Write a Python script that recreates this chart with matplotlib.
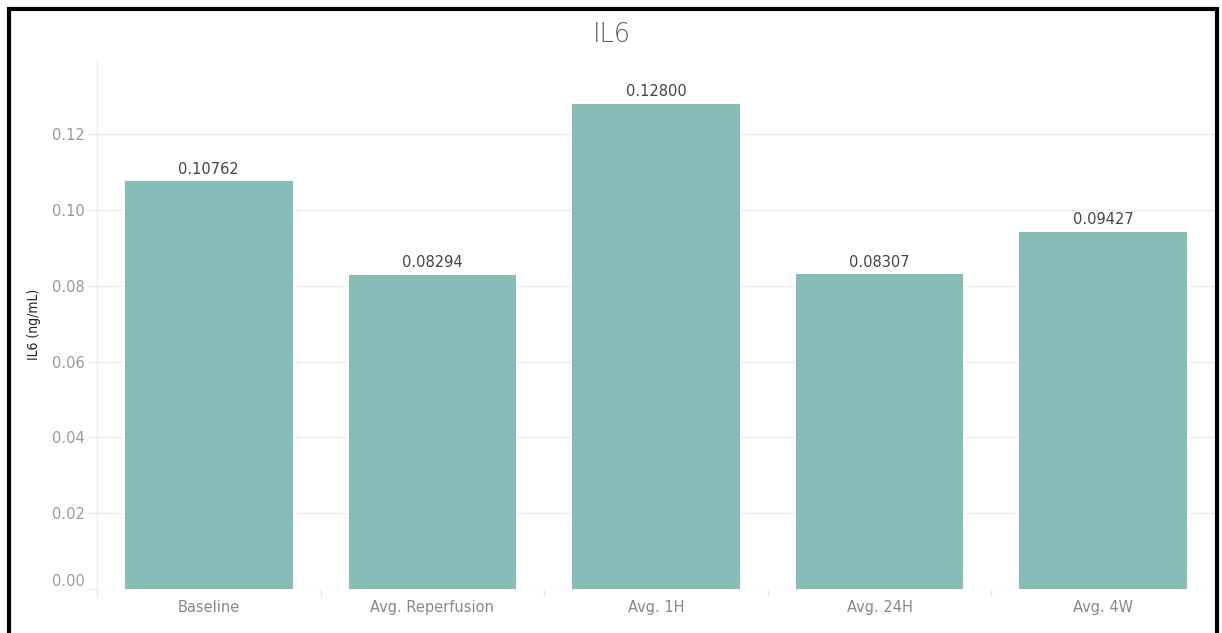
import matplotlib
matplotlib.use("Agg")
import matplotlib.pyplot as plt
from matplotlib.patches import Rectangle
from matplotlib.transforms import offset_copy

plt.rcParams["font.family"] = ["DejaVu Sans"]
plt.rcParams["font.stretch"] = "normal"

categories = ["Baseline", "Avg. Reperfusion", "Avg. 1H", "Avg. 24H", "Avg. 4W"]
values = [0.10762, 0.08294, 0.12800, 0.08307, 0.09427]
yticks = [0.00, 0.02, 0.04, 0.06, 0.08, 0.10, 0.12]

W, H = 1222, 633
fig = plt.figure(figsize=(W / 100, H / 100), dpi=100)
fig.patch.set_facecolor("white")

ax = fig.add_axes([97 / W, 44 / H, (1215 - 97) / W, (589 - 60) / H])
x = list(range(len(categories)))
ax.bar(x, values, width=0.75, color="#87bbb5", zorder=2)

for xi, v in zip(x, values):
    ax.text(xi, v + 0.0012, f"{v:.5f}", ha="center", va="bottom",
            fontsize=10.5, color="#444444")

ax.set_xlim(-0.5, len(categories) - 0.5)
ax.set_ylim(0, 0.1396)
ax.set_yticks(yticks)
ax.set_yticklabels([f"{t:.2f}" for t in yticks])
ax.set_xticks(x)
ax.set_xticklabels(categories)

# category boundary ticks on the x axis
ax.set_xticks([i - 0.5 for i in range(len(categories) + 1)], minor=True)
ax.tick_params(axis="x", which="major", length=0, pad=8, labelsize=10.5,
               labelcolor="#888888")
ax.tick_params(axis="x", which="minor", length=5, color="#e6e6e6", width=1)
ax.tick_params(axis="y", length=6.5, color="#e6e6e6", width=1, pad=2,
               labelsize=10.5, labelcolor="#999999")

# lift the zero label clear of the category axis
fig.canvas.draw()
zero_label = ax.get_yticklabels()[0]
zero_label.set_transform(offset_copy(zero_label.get_transform(), fig=fig,
                                     x=0, y=9, units="dots"))

ax.grid(axis="y", color="#eeeeee", linewidth=1, zorder=0)
for side in ["top", "right", "bottom"]:
    ax.spines[side].set_visible(False)
ax.spines["left"].set_color("#eeeeee")
ax.spines["left"].set_linewidth(1)

ax.set_ylabel("IL6 (ng/mL)", fontsize=10, color="#222222",
              fontstretch="condensed", labelpad=8)

fig.text(612 / W, 1 - 35 / H, "IL6", ha="center", va="center",
         fontsize=18.5, color="#5a5a5a", fontweight="light")

# outer frame
fig.patches.append(Rectangle((9 / W, -0.05), (1217 - 9) / W, 1.05 - 9 / H,
                             transform=fig.transFigure, fill=False,
                             edgecolor="black", linewidth=3, zorder=10))

fig.savefig("out.png", dpi=100)
